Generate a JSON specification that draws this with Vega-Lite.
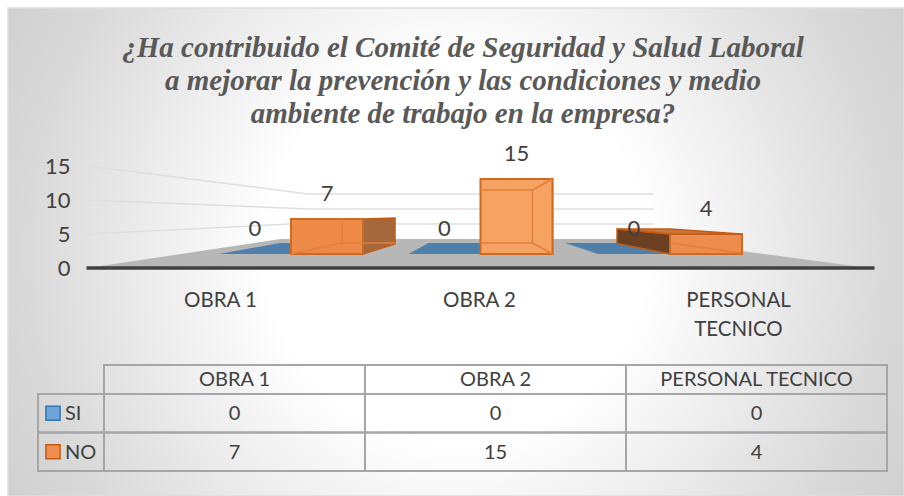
{
"$schema":"https://vega.github.io/schema/vega-lite/v6.json",
"autosize":{"type":"fit","contains":"padding"},
"width":904,"height":496,
"padding":{"left":8,"top":8,"right":0,"bottom":0},
"background":"#ffffff",
"view":{"stroke":"#dedede","strokeWidth":1.5,"fill":{"gradient":"radial","x1":0.5,"y1":0.5,"r1":0,"x2":0.5,"y2":0.5,"r2":0.7071,"stops":[{"offset":0,"color":"#ffffff"},{"offset":0.3,"color":"#ffffff"},{"offset":0.67,"color":"#dadada"},{"offset":1,"color":"#c2c2c2"}]}},
"config":{"font":"Lato","text":{"font":"Lato","color":"#404040"}},
"datasets":{
 "vals":[
  {"category":"OBRA 1","series":"SI","value":0},
  {"category":"OBRA 1","series":"NO","value":7},
  {"category":"OBRA 2","series":"SI","value":0},
  {"category":"OBRA 2","series":"NO","value":15},
  {"category":"PERSONAL TECNICO","series":"SI","value":0},
  {"category":"PERSONAL TECNICO","series":"NO","value":4}
 ],
 "grid":[{"category":"OBRA 2","value":5},{"category":"OBRA 2","value":10},{"category":"OBRA 2","value":15}],
 "floor":[{"category":"OBRA 2","value":0,"part":"floor"}],
 "ticks":[{"value":0},{"value":5},{"value":10},{"value":15}],
 "title":[
  {"line":"a","text":"¿Ha contribuido el Comité de Seguridad y Salud Laboral"},
  {"line":"b","text":"a mejorar la prevención y las condiciones y medio"},
  {"line":"c","text":"ambiente de trabajo en la empresa?"}
 ],
 "rows":[{"row":"SI"},{"row":"NO"}]
},
"layer":[
 {"data":{"name":"ticks"},"mark":{"type":"rule","opacity":0},
  "encoding":{"y":{"field":"value","type":"quantitative","scale":{"domain":[-32.35,38.235],"range":[480,0],"nice":false,"zero":false},
    "axis":{"orient":"left","values":[0,5,10,15],"offset":-62,"title":null,"domain":false,"ticks":false,"grid":false,"labelFontSize":22,"labelColor":"#404040","labelFont":"Lato","labelPadding":0}}}},
 {"data":{"name":"title"},"mark":{"type":"text","font":"Liberation Serif","fontStyle":"italic","fontWeight":"bold","fontSize":29,"color":"#595959","align":"center","baseline":"middle"},
  "encoding":{"text":{"field":"text"},
   "x":{"datum":"t","type":"nominal","scale":{"type":"point","domain":["t"],"range":[455,455],"padding":0},"axis":null},
   "y":{"field":"line","type":"nominal","scale":{"type":"point","domain":["a","b","c"],"range":[40,106],"padding":0},"axis":null}}},
 {"data":{"name":"floor"},"mark":{"type":"point","filled":true,"opacity":1,"fill":"#b7b7b7","strokeWidth":0,"size":4,"shape":"M-393,14 L-200,-15 L173,-15 L388,14 Z"},
  "encoding":{"x":{"field":"category","type":"nominal","scale":{"type":"band","domain":["OBRA 1","OBRA 2","PERSONAL TECNICO"],"range":[188.25,756.75],"paddingInner":0.24,"paddingOuter":0.12},"axis":null},
   "y":{"field":"value","type":"quantitative","scale":{"domain":[-46.8,49.2],"range":[480,0],"nice":false,"zero":false},"axis":null}}},
 {"data":{"name":"grid"},"mark":{"type":"point","filled":false,"opacity":1,"stroke":"#dfdfdf","strokeWidth":1.5,"size":4},
  "encoding":{"x":{"field":"category","type":"nominal","scale":{"type":"band","domain":["OBRA 1","OBRA 2","PERSONAL TECNICO"],"range":[188.25,756.75],"paddingInner":0.24,"paddingOuter":0.12},"axis":null},
   "y":{"field":"value","type":"quantitative","scale":{"domain":[-46.8,49.2],"range":[480,0],"nice":false,"zero":false},"axis":null},
   "shape":{"field":"value","type":"nominal","scale":{"domain":[5,10,15],"range":["M-393,5 L-190,-5 L173,-5","M-393,-4 L-172,5 L173,5","M-393,-13 L-172,15 L173,15"]},"legend":null}}},
 {"data":{"name":"floor"},"mark":{"type":"point","filled":false,"opacity":1,"stroke":"#404040","strokeWidth":3.5,"size":4,"shape":"M-394,14 L394,14"},
  "encoding":{"x":{"field":"category","type":"nominal","scale":{"type":"band","domain":["OBRA 1","OBRA 2","PERSONAL TECNICO"],"range":[188.25,756.75],"paddingInner":0.24,"paddingOuter":0.12},"axis":null},
   "y":{"field":"value","type":"quantitative","scale":{"domain":[-46.8,49.2],"range":[480,0],"nice":false,"zero":false},"axis":null}}},
 {"data":{"name":"vals"},"transform":[{"filter":"datum.series=='SI'"}],"mark":{"type":"point","filled":true,"opacity":1,"fill":"#4f7fab","strokeWidth":0,"size":4},
  "encoding":{"x":{"field":"category","type":"nominal","scale":{"type":"band","domain":["OBRA 1","OBRA 2","PERSONAL TECNICO"],"range":[188.25,756.75],"paddingInner":0.24,"paddingOuter":0.12},"axis":null},
   "xOffset":{"field":"series","scale":{"domain":["SI","NO"],"paddingInner":0,"paddingOuter":0}},
   "y":{"field":"value","type":"quantitative","scale":{"domain":[-46.8,49.2],"range":[480,0],"nice":false,"zero":false},"axis":null},
   "shape":{"field":"category","type":"nominal","scale":{"domain":["OBRA 1","OBRA 2","PERSONAL TECNICO"],"range":["M-36,0 L25,-11 L36,-11 L36,0 Z","M-36,0 L-16,-11 L36,-11 L36,0 Z","M-36,0 L-69,-11 L36,-11 L36,0 Z"]},"legend":null}}},
 {"data":{"name":"vals"},"transform":[{"filter":"datum.series=='NO'"}],"mark":{"type":"point","filled":true,"opacity":1,"stroke":"#c55a11","strokeWidth":1.5,"size":4},
  "encoding":{"x":{"field":"category","type":"nominal","scale":{"type":"band","domain":["OBRA 1","OBRA 2","PERSONAL TECNICO"],"range":[188.25,756.75],"paddingInner":0.24,"paddingOuter":0.12},"axis":null},
   "xOffset":{"field":"series","scale":{"domain":["SI","NO"],"paddingInner":0,"paddingOuter":0}},
   "y":{"field":"value","type":"quantitative","scale":{"domain":[-46.8,49.2],"range":[480,0],"nice":false,"zero":false},"axis":null},
   "fill":{"field":"category","type":"nominal","scale":{"domain":["OBRA 1","OBRA 2","PERSONAL TECNICO"],"range":["#a5673c","#f6ab6e","#6b3f22"]},"legend":null},
   "shape":{"field":"category","type":"nominal","scale":{"domain":["OBRA 1","OBRA 2","PERSONAL TECNICO"],"range":["M36,0 L68,-1 L68,25 L36,35 Z","M36,0 L16,11 L16,64 L36,75 Z","M-89,-5 L-36,0 L-36,20 L-89,9.5 Z"]},"legend":null}}},
 {"data":{"name":"vals"},"transform":[{"filter":"datum.series=='NO'"}],"mark":{"type":"bar","stroke":"#cf6a24","strokeWidth":2},
  "encoding":{"x":{"field":"category","type":"nominal","scale":{"type":"band","domain":["OBRA 1","OBRA 2","PERSONAL TECNICO"],"range":[188.25,756.75],"paddingInner":0.24,"paddingOuter":0.12},"axis":null},
   "xOffset":{"field":"series","scale":{"domain":["SI","NO"],"paddingInner":0,"paddingOuter":0}},
   "y":{"field":"value","type":"quantitative","scale":{"domain":[-46.8,49.2],"range":[480,0],"nice":false,"zero":false},"axis":null},
   "fill":{"field":"category","type":"nominal","scale":{"domain":["OBRA 1","OBRA 2","PERSONAL TECNICO"],"range":["#ee8a48","#f6a263","#ec8c4e"]},"legend":null}}},
 {"data":{"name":"vals"},"transform":[{"filter":"datum.series=='NO'"}],"mark":{"type":"point","filled":false,"opacity":1,"stroke":"#e27f3a","strokeWidth":1.5,"size":4},
  "encoding":{"x":{"field":"category","type":"nominal","scale":{"type":"band","domain":["OBRA 1","OBRA 2","PERSONAL TECNICO"],"range":[188.25,756.75],"paddingInner":0.24,"paddingOuter":0.12},"axis":null},
   "xOffset":{"field":"series","scale":{"domain":["SI","NO"],"paddingInner":0,"paddingOuter":0}},
   "y":{"field":"value","type":"quantitative","scale":{"domain":[-46.8,49.2],"range":[480,0],"nice":false,"zero":false},"axis":null},
   "shape":{"field":"category","type":"nominal","scale":{"domain":["OBRA 1","OBRA 2","PERSONAL TECNICO"],"range":["M15,0 L15,24 M-36,35 L15,24 L68,24","M-36,11 L16,11 L16,64 L-36,64 M16,11 L36,0 M16,64 L36,75","M-36,9 L35,19"]},"legend":null}}},
 {"data":{"name":"vals"},"transform":[{"filter":"datum.category=='PERSONAL TECNICO' && datum.series=='NO'"}],"mark":{"type":"point","filled":true,"opacity":1,"fill":"#c8763a","stroke":"#c55a11","strokeWidth":1.5,"size":4,"shape":"M-89,-5 L-36,-5 L35,0 L-36,0 Z"},
  "encoding":{"x":{"field":"category","type":"nominal","scale":{"type":"band","domain":["OBRA 1","OBRA 2","PERSONAL TECNICO"],"range":[188.25,756.75],"paddingInner":0.24,"paddingOuter":0.12},"axis":null},
   "xOffset":{"field":"series","scale":{"domain":["SI","NO"],"paddingInner":0,"paddingOuter":0}},
   "y":{"field":"value","type":"quantitative","scale":{"domain":[-46.8,49.2],"range":[480,0],"nice":false,"zero":false},"axis":null}}},
 {"data":{"name":"vals"},"mark":{"type":"text","fontSize":22,"dy":-25,"align":"center","baseline":"middle","color":"#404040"},
  "encoding":{"x":{"field":"category","type":"nominal","scale":{"type":"band","domain":["OBRA 1","OBRA 2","PERSONAL TECNICO"],"range":[188.25,756.75],"paddingInner":0.24,"paddingOuter":0.12},"axis":null},
   "xOffset":{"field":"series","scale":{"domain":["SI","NO"],"paddingInner":0,"paddingOuter":0}},
   "y":{"field":"value","type":"quantitative","scale":{"domain":[-46.8,49.2],"range":[480,0],"nice":false,"zero":false},"axis":null},
   "text":{"field":"value"}}},
 {"data":{"name":"vals"},"transform":[{"filter":"datum.series=='SI'"}],"mark":{"type":"text","opacity":0},
  "encoding":{"x":{"field":"category","type":"nominal","scale":{"type":"point","domain":["OBRA 1","OBRA 2","PERSONAL TECNICO"],"range":[212,730],"padding":0},
    "axis":{"orient":"bottom","offset":-206,"title":null,"domain":false,"ticks":false,"grid":false,"labelAngle":0,"labelFontSize":20.5,"labelColor":"#404040","labelFont":"Lato","labelPadding":0,"labelLimit":300,"labelLineHeight":29,"labelBaseline":"top","labelExpr":"datum.value=='PERSONAL TECNICO'?['PERSONAL','TECNICO']:datum.value"}},
   "text":{"field":"value"}}},
 {"data":{"name":"vals"},"mark":{"type":"rect","fillOpacity":0,"stroke":"#a6a6a6","strokeWidth":2},
  "encoding":{"x":{"field":"category","type":"nominal","scale":{"type":"band","domain":["OBRA 1","OBRA 2","PERSONAL TECNICO"],"range":[96,879],"padding":0},"axis":null},
   "y":{"field":"series","type":"nominal","scale":{"type":"band","domain":["SI","NO"],"range":[386,463],"padding":0},"axis":null}}},
 {"data":{"name":"vals"},"mark":{"type":"text","fontSize":20,"align":"center","baseline":"middle","dy":1,"color":"#404040"},
  "encoding":{"x":{"field":"category","type":"nominal","scale":{"type":"band","domain":["OBRA 1","OBRA 2","PERSONAL TECNICO"],"range":[96,879],"padding":0},"axis":null},
   "y":{"field":"series","type":"nominal","scale":{"type":"band","domain":["SI","NO"],"range":[386,463],"padding":0},"axis":null},
   "text":{"field":"value"}}},
 {"data":{"name":"vals"},"transform":[{"filter":"datum.series=='SI'"}],"mark":{"type":"rect","fillOpacity":0,"stroke":"#a6a6a6","strokeWidth":2},
  "encoding":{"x":{"field":"category","type":"nominal","scale":{"type":"band","domain":["OBRA 1","OBRA 2","PERSONAL TECNICO"],"range":[96,879],"padding":0},"axis":null},
   "y":{"datum":"h","type":"nominal","scale":{"type":"band","domain":["h"],"range":[357,386],"padding":0},"axis":null}}},
 {"data":{"name":"vals"},"transform":[{"filter":"datum.series=='SI'"}],"mark":{"type":"text","fontSize":20,"align":"center","baseline":"middle","color":"#404040"},
  "encoding":{"x":{"field":"category","type":"nominal","scale":{"type":"band","domain":["OBRA 1","OBRA 2","PERSONAL TECNICO"],"range":[96,879],"padding":0},"axis":null},
   "y":{"datum":"h","type":"nominal","scale":{"type":"band","domain":["h"],"range":[357,386],"padding":0},"axis":null},
   "text":{"field":"category"}}},
 {"data":{"name":"rows"},"mark":{"type":"rect","fillOpacity":0,"stroke":"#a6a6a6","strokeWidth":2},
  "encoding":{"x":{"datum":"k","type":"nominal","scale":{"type":"band","domain":["k"],"range":[30,96],"padding":0},"axis":null},
   "y":{"field":"row","type":"nominal","scale":{"type":"band","domain":["SI","NO"],"range":[386,463],"padding":0},"axis":null}}},
 {"data":{"name":"rows"},"mark":{"type":"text","fontSize":20,"align":"left","baseline":"middle","dy":1,"color":"#404040"},
  "encoding":{"x":{"datum":"k","type":"nominal","scale":{"type":"point","domain":["k"],"range":[57,57],"padding":0},"axis":null},
   "y":{"field":"row","type":"nominal","scale":{"type":"band","domain":["SI","NO"],"range":[386,463],"padding":0},"axis":null},
   "text":{"field":"row"}}},
 {"data":{"name":"rows"},"mark":{"type":"point","shape":"square","filled":true,"opacity":1,"strokeWidth":1.5,"size":200},
  "encoding":{"x":{"datum":"k","type":"nominal","scale":{"type":"point","domain":["k"],"range":[45,45],"padding":0},"axis":null},
   "y":{"field":"row","type":"nominal","scale":{"type":"band","domain":["SI","NO"],"range":[386,463],"padding":0},"axis":null},
   "fill":{"field":"row","type":"nominal","scale":{"domain":["SI","NO"],"range":["#6fa5d8","#ee8f50"]},"legend":null},
   "stroke":{"field":"row","type":"nominal","scale":{"domain":["SI","NO"],"range":["#2e75b6","#c55a11"]},"legend":null}}}
],
"resolve":{"scale":{"x":"independent","y":"independent","shape":"independent","fill":"independent","stroke":"independent"},"axis":{"x":"independent","y":"independent"}}
}
